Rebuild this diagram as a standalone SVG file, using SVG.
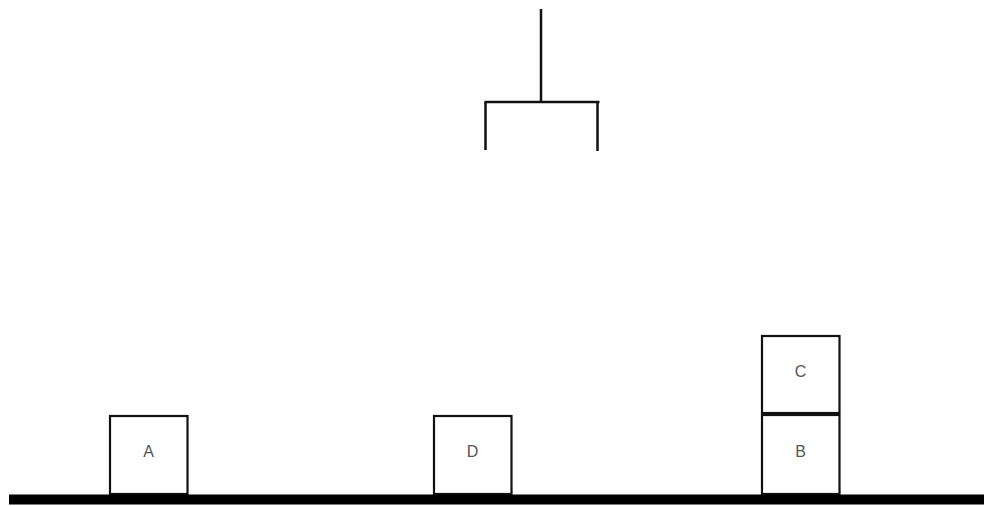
<svg xmlns="http://www.w3.org/2000/svg" width="984" height="506" viewBox="0 0 984 506">
<style>
.box{fill:#fff;stroke:#111;stroke-width:2.2}
.lbl{font-family:"Liberation Sans",Arial,sans-serif;font-size:16px;fill:#555;text-anchor:middle;dominant-baseline:central}
.arm{stroke:#111;stroke-width:2.5;fill:none}
</style>
<rect width="984" height="506" fill="#fff"/>
<g id="gripper">
<line class="arm" x1="541" y1="9" x2="541" y2="102"/>
<line class="arm" x1="484.5" y1="102" x2="599.5" y2="102"/>
<line class="arm" x1="485.5" y1="102" x2="485.5" y2="150"/>
<line class="arm" x1="597.5" y1="102" x2="597.5" y2="151"/>
</g>
<g id="A"><rect class="box" x="110" y="416" width="77.5" height="78"/><text class="lbl" x="148.5" y="451">A</text></g>
<g id="D"><rect class="box" x="434" y="416" width="77.5" height="78"/><text class="lbl" x="472.5" y="451">D</text></g>
<g id="C"><rect class="box" x="762" y="336" width="77.5" height="77"/><text class="lbl" x="800.5" y="371">C</text></g>
<g id="B"><rect class="box" x="762" y="415" width="77.5" height="79"/><text class="lbl" x="800.5" y="451">B</text></g>
<g id="ground"><rect x="9" y="494.5" width="975" height="10" fill="#000"/></g>
</svg>
